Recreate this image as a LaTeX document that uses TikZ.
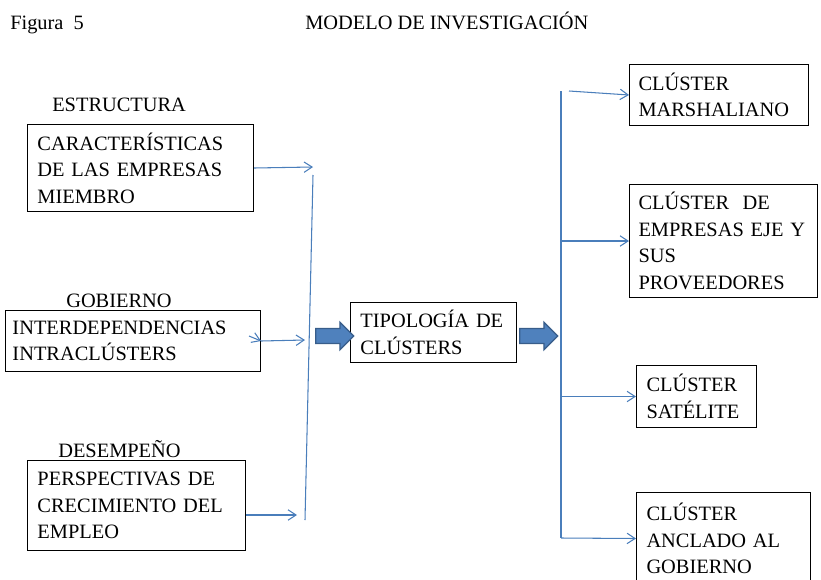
\documentclass[tikz,border=0pt]{standalone}
\usepackage{fontspec}
\setmainfont{Liberation Serif}
\usetikzlibrary{arrows.meta,shapes.arrows}
\definecolor{linkblue}{RGB}{74,126,187}
\definecolor{fatfill}{RGB}{79,129,189}
\definecolor{fatdraw}{RGB}{56,93,138}

\begin{document}
\begin{tikzpicture}[
  x=0.025cm, y=-0.025cm,
  box/.style={draw, line width=0.7pt, anchor=north west, align=left, inner xsep=0.25cm, inner ysep=0pt, font=\fontsize{14.5}{18.8}\selectfont},
  lbl/.style={inner sep=0pt, anchor=base west, font=\fontsize{14.5}{18}\selectfont},
  link/.style={draw=linkblue, line width=0.75pt, -{Straight Barb[length=2mm, width=2.6mm]}},
  bar/.style={draw=linkblue, line width=0.75pt},
  fat/.style={single arrow, draw=fatdraw, fill=fatfill, line width=0.9pt, minimum height=0.95cm, inner xsep=0pt, inner ysep=0.17cm, single arrow head extend=0.16cm}
]
\useasboundingbox (0,0) rectangle (821,579);
\clip (0,0) rectangle (821,579);

% Heading
\node[lbl] (fig) at (10,29) {Figura\ \ 5};
\node[lbl] (title) at (305,29) {MODELO DE INVESTIGACIÓN};

% Inputs
\node[lbl] (l1) at (52,111) {ESTRUCTURA};
\node[box, text width=5.15cm, minimum height=2.175cm] (box1) at (27,124) {CARACTERÍSTICAS\\DE~LAS~EMPRESAS\\MIEMBRO};
\node[lbl] (l2) at (66,307) {GOBIERNO};
\node[box, inner xsep=0.175cm, text width=6.025cm, minimum height=1.525cm] (box2) at (5,310) {INTERDEPENDENCIAS\\INTRACLÚSTERS};
\node[lbl] (l3) at (58,457) {DESEMPEÑO};
\node[box, text width=4.95cm, minimum height=2.25cm] (box3) at (27,460) {PERSPECTIVAS~DE\\CRECIMIENTO~DEL\\EMPLEO};

% Centre
\node[box, text width=3.65cm, minimum height=1.5cm] (tipo) at (350,302) {TIPOLOGÍA~DE\\CLÚSTERS};
\node[fat] (fat1) at (331,336) {};
\node[fat] (fat2) at (535,336) {};

% Outputs
\node[box, inner xsep=0.225cm, text width=4.025cm, minimum height=1.525cm] (boxA) at (629,64) {CLÚSTER\\MARSHALIANO};
\node[box, inner xsep=0.225cm, text width=4.25cm, minimum height=2.825cm] (boxB) at (629,184) {CLÚSTER\ \ DE\\EMPRESAS~EJE~Y\\SUS\\PROVEEDORES};
\node[box, inner xsep=0.25cm, text width=2.5cm, minimum height=1.55cm] (boxC) at (636,365) {CLÚSTER\\SATÉLITE};
\node[box, inner xsep=0.25cm, text width=3.85cm, minimum height=2.3cm] (boxD) at (636,492) {CLÚSTER\\ANCLADO~AL\\GOBIERNO};

% Bars
\coordinate (lt) at (313,175);
\coordinate (lb) at (305,520);
\coordinate (rt) at (561,91);
\coordinate (rb) at (561,538);
\draw[bar] (lt) -- (lb);
\draw[bar] (rt) -- (rb);

% Arrows in
\coordinate (e1) at (313,167);
\coordinate (g0) at (249,336);
\coordinate (g1) at (305,340);
\coordinate (d1) at (297,515);
\draw[link] (box1.east) -- (e1);
\draw[link] (g0) -- (box2.east);
\draw[link] (box2.east) -- (g1);
\draw[link] (box3.east |- d1) -- (d1);

% Arrows out
\coordinate (a0) at (569,91);
\draw[link] (a0) -- (boxA.west);
\draw[link] (rt |- boxB.west) -- (boxB.west);
\draw[link] (rt |- boxC.west) -- (boxC.west);
\draw[link] (rb) -- (boxD.west);
\end{tikzpicture}
\end{document}
